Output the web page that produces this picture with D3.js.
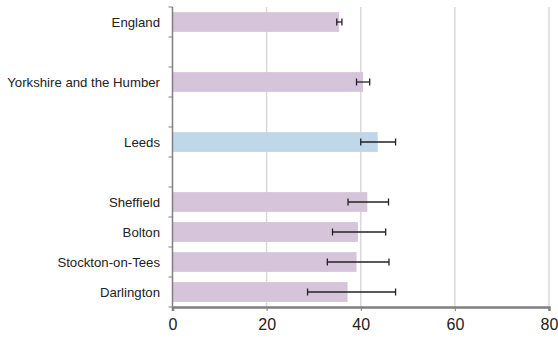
<!DOCTYPE html>
<html>
<head>
<meta charset="utf-8">
<script src="https://cdn.jsdelivr.net/npm/d3@7"></script>
<style>
  body { margin: 0; background: #fff; }
  text { font-family: "Liberation Sans", Arial, sans-serif; fill: #222; }
</style>
</head>
<body>
<svg id="chart"></svg>
<script>
const categories = ["England", "", "Yorkshire and the Humber", " ", "Leeds", "  ",
  "Sheffield", "Bolton", "Stockton-on-Tees", "Darlington"];
const values = [35.4, null, 40.5, null, 43.6, null, 41.4, 39.4, 39.1, 37.2];
const lower = [34.9, null, 39.1, null, 40.0, null, 37.3, 34.0, 32.9, 28.7];
const upper = [36.0, null, 41.9, null, 47.4, null, 45.9, 45.3, 46.0, 47.4];
const highlight = ["Leeds"];
const xTicks = [0, 20, 40, 60, 80];

const width = 558, height = 338;
const margin = { top: 7, right: 9, bottom: 31, left: 172.5 };

const svg = d3.select("#chart").attr("width", width).attr("height", height);

const x = d3.scaleLinear().domain([0, 80]).range([margin.left, width - margin.right]);
const y = d3.scaleBand().domain(categories)
  .range([margin.top, height - margin.bottom]).paddingInner(0.34).paddingOuter(0.17);

const rows = categories.map((c, i) => ({ c, v: values[i], lo: lower[i], hi: upper[i] }))
  .filter(d => d.v != null);

// gridlines
svg.append("g").selectAll("line").data(xTicks.slice(1)).join("line")
  .attr("x1", d => x(d)).attr("x2", d => x(d))
  .attr("y1", margin.top).attr("y2", height - margin.bottom)
  .attr("stroke", "#d9d9d9").attr("stroke-width", 1.5);

// bars
svg.append("g").selectAll("rect").data(rows).join("rect")
  .attr("x", x(0)).attr("y", d => y(d.c))
  .attr("width", d => x(d.v) - x(0)).attr("height", y.bandwidth())
  .attr("fill", d => highlight.includes(d.c) ? "#bfd7e9" : "#d6c5da");

// error bars
const eb = svg.append("g").attr("stroke", "#222").attr("stroke-width", 1.3);
rows.forEach(d => {
  const cy = y(d.c) + y.bandwidth() / 2;
  eb.append("line").attr("x1", x(d.lo)).attr("x2", x(d.hi)).attr("y1", cy).attr("y2", cy);
  [d.lo, d.hi].forEach(v => eb.append("line")
    .attr("x1", x(v)).attr("x2", x(v)).attr("y1", cy - 3.5).attr("y2", cy + 3.5));
});

// y axis with ticks at band boundaries
const step = y.step();
const bounds = d3.range(categories.length + 1).map(i => margin.top + i * step);
const ya = svg.append("g");
ya.append("line").attr("x1", x(0)).attr("x2", x(0))
  .attr("y1", margin.top).attr("y2", height - margin.bottom)
  .attr("stroke", "#808080").attr("stroke-width", 1.5);
ya.selectAll(".tk").data(bounds).join("line")
  .attr("x1", x(0) - 4).attr("x2", x(0)).attr("y1", d => d).attr("y2", d => d)
  .attr("stroke", "#808080").attr("stroke-width", 1);
ya.selectAll("text").data(rows).join("text")
  .attr("x", 160).attr("y", d => y(d.c) + y.bandwidth() / 2)
  .attr("dy", "0.35em").attr("text-anchor", "end")
  .style("font-size", "13.2px").text(d => d.c);

// x axis
const xa = svg.append("g").attr("transform", `translate(0,${height - margin.bottom})`)
  .call(d3.axisBottom(x).tickValues(xTicks).tickSize(4).tickPadding(8));
xa.select(".domain").attr("stroke", "#808080").attr("stroke-width", 2.5);
xa.selectAll(".tick line").attr("stroke", "#808080");
xa.selectAll(".tick text").style("font-size", "16px")
  .style("font-family", "'Liberation Sans', Arial, sans-serif").attr("fill", "#222");
</script>
</body>
</html>
